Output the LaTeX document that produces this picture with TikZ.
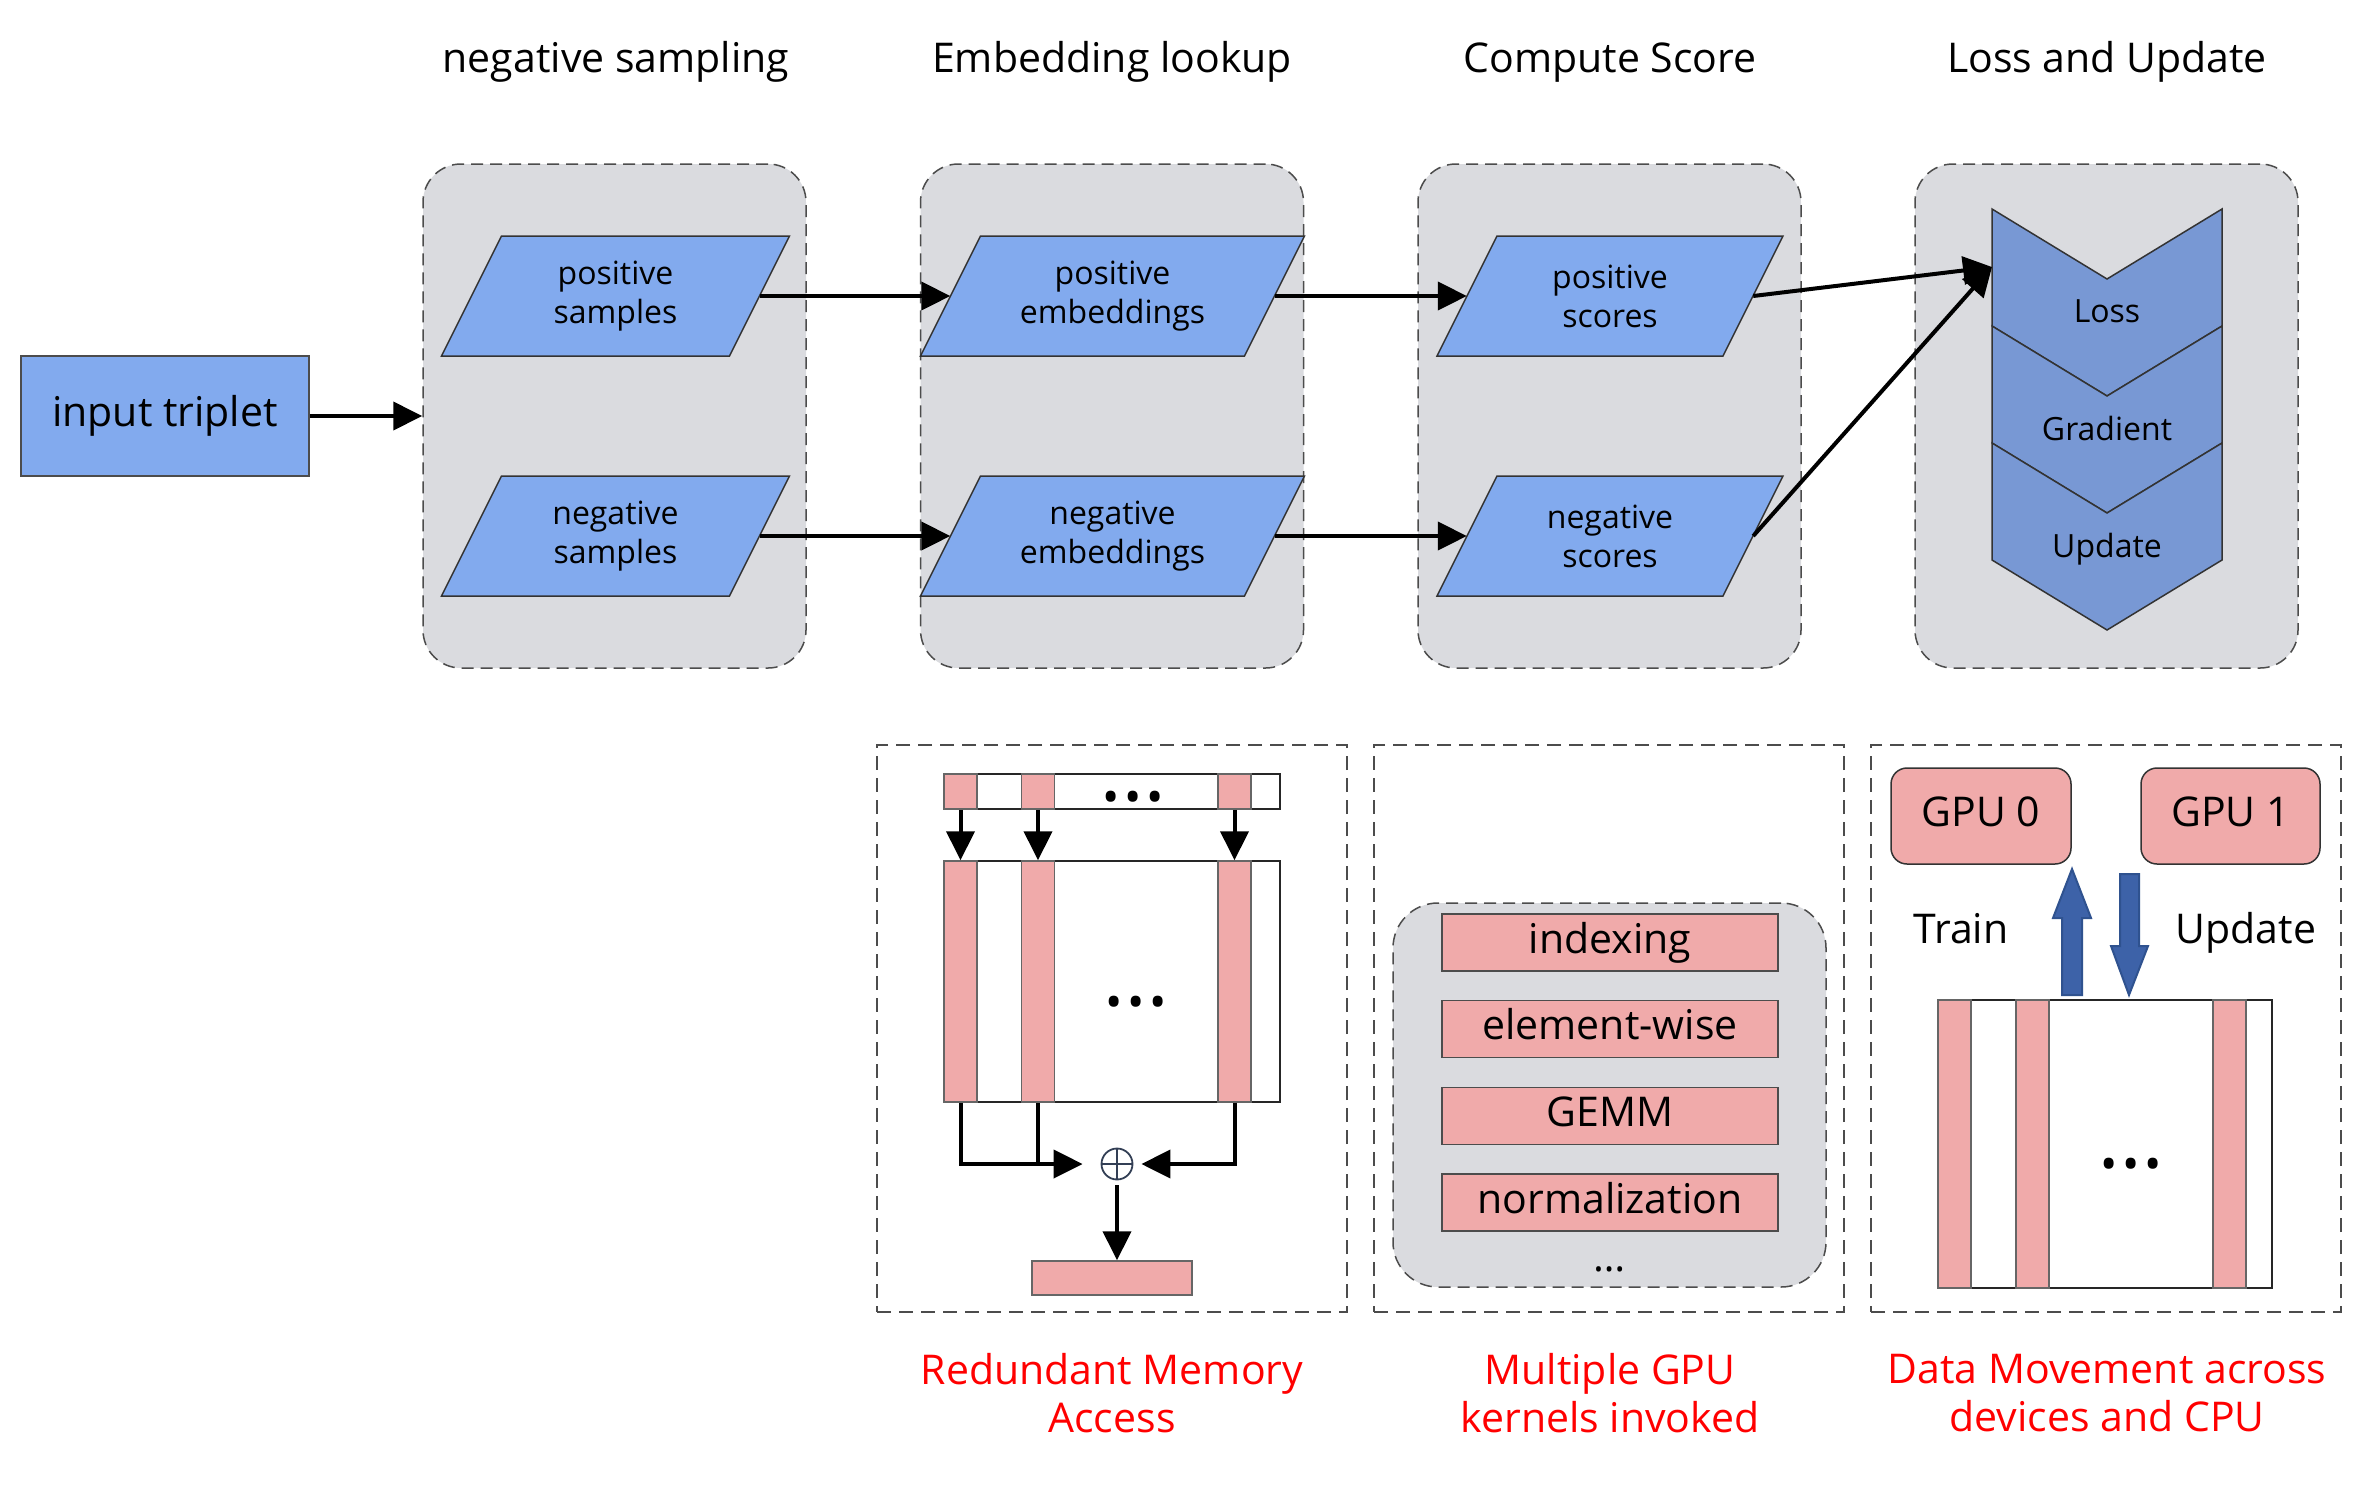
\documentclass[tikz,border=0pt]{standalone}
\usepackage{fontspec}
\setmainfont{Open Sans}
\usetikzlibrary{arrows.meta,calc}
\definecolor{parablue}{HTML}{82AAEE}
\definecolor{chevblue}{HTML}{7898D4}
\definecolor{panelgray}{HTML}{DADBDF}
\definecolor{pinkc}{HTML}{F0AAAA}
\definecolor{arrblue}{HTML}{3D62A8}
\definecolor{arrblueD}{HTML}{2F528F}
\definecolor{opcol}{HTML}{333F55}
\newcommand\bigf{\fontsize{41}{48}\selectfont}
\newcommand\smallf{\fontsize{32}{39}\selectfont}
\newcommand\threedots{\textbullet\kern5pt\textbullet\kern5pt\textbullet}
\newcommand\paral[5]{%
  \draw[parashape] ({#2-#4/2-30},{#3+60}) -- ({#2-#4/2+30},{#3-60}) -- ({#2+#4/2+30},{#3-60}) -- ({#2+#4/2-30},{#3+60}) -- cycle;
  \node[paratext, minimum width=#4pt] (#1) at (#2,#3) {#5};}
\begin{document}
\begin{tikzpicture}[x=1pt,y=-1pt,
  hdr/.style={font=\bigf, anchor=base, inner sep=0pt},
  panel/.style={draw=black!70, dash pattern=on 12pt off 7pt, line width=1.5pt, rounded corners=38pt, fill=panelgray, inner sep=0pt},
  bbox/.style={draw=black!70, dash pattern=on 14pt off 8pt, line width=1.5pt, inner sep=0pt},
  inbox/.style={draw=black!70, line width=1.5pt, fill=parablue, font=\bigf, inner sep=0pt},
  parashape/.style={draw=black!80, line width=1.5pt, fill=parablue},
  paratext/.style={font=\smallf, align=center, minimum height=120pt, inner sep=0pt},
  chev/.style={draw=black!80, line width=1.5pt, fill=chevblue},
  lab/.style={font=\smallf, anchor=base, inner sep=0pt},
  arr/.style={line width=4pt, -{Triangle[length=29pt,width=28pt]}},
  ln/.style={line width=4pt},
  whitecell/.style={draw=black!85, line width=1.5pt, fill=white, inner sep=0pt},
  pinkcell/.style={draw=black!60, line width=1.5pt, fill=pinkc, inner sep=0pt},
  kbar/.style={draw=black!70, line width=1.5pt, fill=pinkc, font=\bigf, minimum width=336pt, minimum height=57pt, text height=30pt, text depth=9pt, inner sep=0pt},
  gpu/.style={draw=black!80, line width=1.5pt, fill=pinkc, rounded corners=16pt, font=\bigf, minimum height=96pt, text height=30pt, text depth=9pt, inner sep=0pt},
  blockarr/.style={fill=arrblue, draw=arrblueD, line width=2pt},
  redcaption/.style={font=\bigf, text=red, align=center, inner sep=0pt},
  bigdots/.style={font=\fontsize{46}{46}\selectfont, inner sep=0pt},
  oplus/.style={circle, draw=opcol, line width=1.8pt, minimum size=31pt, inner sep=0pt,
    path picture={\draw[opcol, line width=1.8pt] (path picture bounding box.north) -- (path picture bounding box.south) (path picture bounding box.west) -- (path picture bounding box.east);}}
]
\useasboundingbox (0,0) rectangle (2379,1484);
\fill[white] (0,0) rectangle (2379,1484);

% headers
\node[hdr] (h1) at (616,72) {negative sampling};
\node[hdr] (h2) at (1112,72) {Embedding lookup};
\node[hdr] (h3) at (1610,72) {Compute Score};
\node[hdr] (h4) at (2107,72) {Loss and Update};

% panels
\node[panel, minimum width=383pt, minimum height=504pt] (p1) at (614.5,416) {};
\node[panel, minimum width=383pt, minimum height=504pt] (p2) at (1112,416) {};
\node[panel, minimum width=383pt, minimum height=504pt] (p3) at (1609.5,416) {};
\node[panel, minimum width=383pt, minimum height=504pt] (p4) at (2106.5,416) {};

% input
\node[inbox, minimum width=288pt, minimum height=120pt] (inp) at (165,416) {input triplet};

% parallelograms
\paral{ps}{615.5}{296}{288}{positive\\samples}
\paral{ns}{615.5}{536}{288}{negative\\samples}
\paral{pe}{1112.5}{296}{324}{positive\\embeddings}
\paral{ne}{1112.5}{536}{324}{negative\\embeddings}
\paral{psc}{1610}{296}{286}{positive\\scores}
\paral{nsc}{1610}{536}{286}{negative\\scores}

% chevrons
\foreach \t in {209,326,443}
  \draw[chev] (1992,\t) -- (2107,{\t+70}) -- (2222,\t) -- (2222,{\t+117}) -- (2107,{\t+187}) -- (1992,{\t+117}) -- cycle;
\node[lab] (loss) at (2107,322) {Loss};
\node[lab] (grad) at (2107,440) {Gradient};
\node[lab] (upd) at (2107,557) {Update};
\coordinate (lossin) at (1992,267);

% arrows top
\draw[arr] (inp.east) -- (p1.west);
\draw[arr] (ps.east) -- (pe.west);
\draw[arr] (ns.east) -- (ne.west);
\draw[arr] (pe.east) -- (psc.west);
\draw[arr] (ne.east) -- (nsc.west);
\draw[arr] (psc.east) -- (lossin);
\draw[arr] (nsc.east) -- (lossin);

% bottom boxes
\node[bbox, minimum width=470pt, minimum height=567pt] (b1) at (1112,1028.5) {};
\node[bbox, minimum width=470pt, minimum height=567pt] (b2) at (1609,1028.5) {};
\node[bbox, minimum width=470pt, minimum height=567pt] (b3) at (2106,1028.5) {};

% B1 redundant memory access
\node[whitecell, minimum width=336pt, minimum height=35pt] (bar) at (1112,791.5) {};
\node[pinkcell, minimum width=33pt, minimum height=35pt] (c1) at (960.5,791.5) {};
\node[pinkcell, minimum width=33pt, minimum height=35pt] (c2) at (1038,791.5) {};
\node[pinkcell, minimum width=33pt, minimum height=35pt] (c3) at (1234.5,791.5) {};
\node[bigdots] (d1) at (1133,802) {\threedots};
\node[whitecell, minimum width=336pt, minimum height=241pt] (mat) at (1112,981.5) {};
\node[pinkcell, minimum width=33pt, minimum height=241pt] (m1) at (960.5,981.5) {};
\node[pinkcell, minimum width=33pt, minimum height=241pt] (m2) at (1038,981.5) {};
\node[pinkcell, minimum width=33pt, minimum height=241pt] (m3) at (1234.5,981.5) {};
\node[bigdots] (d2) at (1136,1007) {\threedots};
\draw[arr] (c1.south) -- (m1.north);
\draw[arr] (c2.south) -- (m2.north);
\draw[arr] (c3.south) -- (m3.north);
\node[oplus] (op) at (1117,1164) {};
\draw[arr, shorten >=18pt] (m1.south) |- (op.west);
\draw[ln] (m2.south) -- (m2.south |- op.west);
\draw[arr, shorten >=8pt] (m3.south) |- (op.east);
\node[pinkcell, minimum width=160pt, minimum height=34pt] (res) at (1112,1278) {};
\draw[arr, shorten <=5pt] (op.south) -- (op.south |- res.north);

% B2 kernels
\node[panel, rounded corners=45pt, minimum width=433pt, minimum height=384pt] (kg) at (1609.5,1095) {};
\node[kbar] (k1) at (1610,942.5) {indexing};
\node[kbar] (k2) at (1610,1029) {element-wise};
\node[kbar] (k3) at (1610,1116) {GEMM};
\node[kbar] (k4) at (1610,1202.5) {normalization};
\node[font=\bigf, anchor=base, inner sep=0pt] (kd) at (1610,1271) {\ldots};

% B3 data movement
\node[gpu, minimum width=180pt] (g0) at (1981,816) {GPU 0};
\node[gpu, minimum width=179pt] (g1) at (2230.5,816) {GPU 1};
\node[hdr] (train) at (1961,943) {Train};
\node[hdr] (upd2) at (2246,943) {Update};
\node[whitecell, minimum width=334pt, minimum height=288pt] (mat3) at (2105,1144) {};
\node[pinkcell, minimum width=33pt, minimum height=288pt] (n1) at (1954.5,1144) {};
\node[pinkcell, minimum width=33pt, minimum height=288pt] (n2) at (2032.5,1144) {};
\node[pinkcell, minimum width=33pt, minimum height=288pt] (n3) at (2229.5,1144) {};
\node[bigdots] (d3) at (2131,1169) {\threedots};
\draw[blockarr] (2062,995) -- (2062,918) -- (2053,918) -- (2072,869) -- (2091,918) -- (2082,918) -- (2082,995) -- cycle;
\draw[blockarr] (2120,874) -- (2139,874) -- (2139,946) -- (2148,946) -- (2129,995) -- (2111,946) -- (2120,946) -- cycle;

% captions
\node[redcaption] (cap1) at (1112,1393) {Redundant Memory\\Access};
\node[redcaption] (cap2) at (1610,1393) {Multiple GPU\\kernels invoked};
\node[redcaption] (cap3) at (2107,1393) {Data Movement across\\devices and CPU};
\end{tikzpicture}
\end{document}
